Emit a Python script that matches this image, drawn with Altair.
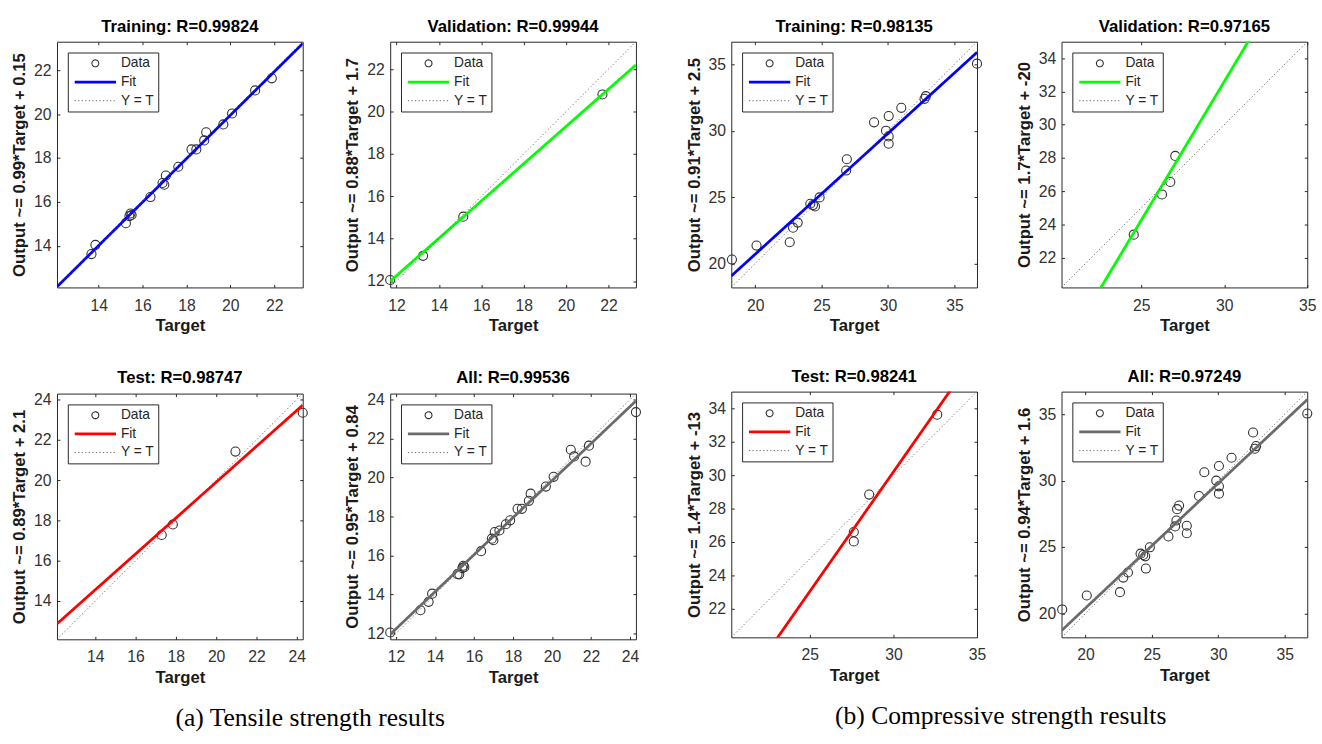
import altair as alt
import pandas as pd

SERIES = ["Data", "Fit", "Y = T"]

# ---------------- Tensile strength (a) ----------------
ten_train_target = [13.67, 13.85, 15.24, 15.40, 15.45, 15.50, 16.36, 16.91, 16.99, 17.06,
                    17.63, 18.23, 18.45, 18.81, 18.90, 19.68, 20.08, 21.13, 21.89]
ten_train_output = [13.62, 14.04, 15.03, 15.35, 15.47, 15.40, 16.22, 16.86, 16.78, 17.20,
                    17.60, 18.39, 18.39, 18.80, 19.17, 19.53, 20.03, 21.08, 21.63]
ten_val_target = [11.70, 13.25, 15.15, 21.72]
ten_val_output = [12.05, 13.19, 15.04, 20.81]
ten_test_target = [17.30, 17.85, 20.96, 24.30]
ten_test_output = [17.28, 17.80, 21.42, 23.35]

# ---------------- Compressive strength (b) ----------------
com_train_target = [18.25, 20.10, 22.60, 22.85, 23.20, 24.15, 24.35, 24.50, 24.85, 26.85,
                    26.90, 28.95, 29.85, 30.05, 30.05, 30.05, 31.00, 32.75, 32.85, 36.70]
com_train_output = [20.30, 21.35, 21.60, 22.70, 23.08, 24.50, 24.40, 24.30, 24.98, 27.00,
                    27.85, 30.63, 30.00, 29.57, 29.02, 31.10, 31.72, 32.40, 32.60, 35.05]
com_val_target = [24.55, 26.25, 26.75, 27.05]
com_val_output = [23.38, 25.80, 26.55, 28.12]
com_test_target = [27.63, 27.63, 28.55, 32.62]
com_test_output = [26.60, 26.04, 28.84, 33.62]

# Fit coefficients (slope, intercept) per panel
fit_coef = {
    "ten_train": (0.99, 0.15), "ten_val": (0.88, 1.7), "ten_test": (0.89, 2.1), "ten_all": (0.95, 0.84),
    "com_train": (0.91, 2.5), "com_val": (1.67, -17.5), "com_test": (1.43, -12.7), "com_all": (0.94, 1.6),
}
# Axis limits per panel
limits = {
    "ten_train": [12.1, 23.3], "ten_val": [11.7, 23.3], "ten_test": [12.1, 24.3], "ten_all": [11.7, 24.3],
    "com_train": [18.2, 36.7], "com_val": [20.2, 35.0], "com_test": [20.3, 35.0], "com_all": [18.2, 36.7],
}
ticks_ten_a = [14, 16, 18, 20, 22]
ticks_ten_b = [12, 14, 16, 18, 20, 22]
ticks_ten_c = [14, 16, 18, 20, 22, 24]
ticks_ten_d = [12, 14, 16, 18, 20, 22, 24]
ticks_com_5 = [20, 25, 30, 35]
ticks_com_x = [25, 30, 35]
ticks_com_y = [22, 24, 26, 28, 30, 32, 34]

titles = {
    "ten_train": "Training: R=0.99824", "ten_val": "Validation: R=0.99944",
    "ten_test": "Test: R=0.98747", "ten_all": "All: R=0.99536",
    "com_train": "Training: R=0.98135", "com_val": "Validation: R=0.97165",
    "com_test": "Test: R=0.98241", "com_all": "All: R=0.97249",
}
ylabels = {
    "ten_train": "Output ~= 0.99*Target + 0.15", "ten_val": "Output ~= 0.88*Target + 1.7",
    "ten_test": "Output ~= 0.89*Target + 2.1", "ten_all": "Output ~= 0.95*Target + 0.84",
    "com_train": "Output ~= 0.91*Target + 2.5", "com_val": "Output ~= 1.7*Target + -20",
    "com_test": "Output ~= 1.4*Target + -13", "com_all": "Output ~= 0.94*Target + 1.6",
}
fit_colors = {"train": "#0000FF", "val": "#00FF00", "test": "#FF0000", "all": "#6B6B6B"}

DATA_COLOR = "#303030"
DOT_COLOR = "#555555"
AX_COLOR = "#262626"
LINE_PATH = "M -6 0 L 6 0"
FONT = "Liberation Sans"
INWARD = alt.ExprRef(expr="-3")


def make_panel(key, tgt, out, xt, yt):
    lo, hi = limits[key]
    slope, icpt = fit_coef[key]
    kind = key.split("_")[1]
    pts = pd.DataFrame({"Target": tgt, "Output": out, "series": ["Data"] * len(tgt)})
    lines = pd.DataFrame({
        "Target": [lo, hi, lo, hi],
        "Output": [slope * lo + icpt, slope * hi + icpt, lo, hi],
        "series": ["Fit", "Fit", "Y = T", "Y = T"],
    })
    sc = alt.Scale(domain=[lo, hi], nice=False, zero=False)
    leg = alt.Legend(
        title=None, orient="top-left", offset=11, fillColor="white", strokeColor=AX_COLOR,
        padding=4, labelFont=FONT, labelFontSize=14, labelColor=AX_COLOR,
        symbolSize=49, symbolOffset=17, labelOffset=19, rowPadding=5,
    )
    color_enc = alt.Color("series:N", legend=leg,
                          scale=alt.Scale(domain=SERIES, range=[DATA_COLOR, fit_colors[kind], DOT_COLOR]))
    common_ax = dict(tickSize=INWARD, tickColor=AX_COLOR, domain=False, grid=False)
    pts_layer = alt.Chart(pts).mark_point(filled=False, size=85, strokeWidth=1.1, opacity=1).encode(
        x=alt.X("Target:Q", scale=sc,
                axis=alt.Axis(orient="bottom", values=xt, title="Target", labelPadding=13,
                              titlePadding=5, labelFlush=False, labelOverlap=False, **common_ax)),
        y=alt.Y("Output:Q", scale=sc,
                axis=alt.Axis(orient="left", values=yt, title=ylabels[key], labelPadding=9,
                              titlePadding=5, labelOverlap=False, labelFlush=False, **common_ax)),
        color=color_enc,
        shape=alt.Shape("series:N", legend=leg,
                        scale=alt.Scale(domain=SERIES, range=["circle", LINE_PATH, LINE_PATH])),
    )
    line_layer = alt.Chart(lines).mark_line(clip=True).encode(
        x=alt.X("Target:Q", scale=sc,
                axis=alt.Axis(orient="top", values=xt, title=None, labels=False, **common_ax)),
        y=alt.Y("Output:Q", scale=sc,
                axis=alt.Axis(orient="right", values=yt, title=None, labels=False, **common_ax)),
        color=color_enc,
        strokeDash=alt.StrokeDash("series:N", legend=leg,
                                  scale=alt.Scale(domain=SERIES, range=[[1, 0], [1, 0], [1.2, 2.4]])),
        strokeWidth=alt.StrokeWidth("series:N", legend=leg,
                                    scale=alt.Scale(type="ordinal", domain=SERIES, range=[1.1, 2.8, 0.9])),
    )
    return (
        alt.layer(pts_layer, line_layer)
        .resolve_scale(x="independent", y="independent")
        .resolve_axis(x="independent", y="independent")
        .properties(width=250, height=250, title=alt.TitleParams(titles[key], frame="group"))
    )


ten_all_target = ten_train_target + ten_val_target + ten_test_target
ten_all_output = ten_train_output + ten_val_output + ten_test_output
com_all_target = com_train_target + com_val_target + com_test_target
com_all_output = com_train_output + com_val_output + com_test_output

p1 = make_panel("ten_train", ten_train_target, ten_train_output, ticks_ten_a, ticks_ten_a)
p2 = make_panel("ten_val", ten_val_target, ten_val_output, ticks_ten_b, ticks_ten_b)
p5 = make_panel("ten_test", ten_test_target, ten_test_output, ticks_ten_c, ticks_ten_c)
p6 = make_panel("ten_all", ten_all_target, ten_all_output, ticks_ten_d, ticks_ten_d)
p3 = make_panel("com_train", com_train_target, com_train_output, ticks_com_5, ticks_com_5)
p4 = make_panel("com_val", com_val_target, com_val_output, ticks_com_x, ticks_com_y)
p7 = make_panel("com_test", com_test_target, com_test_output, ticks_com_x, ticks_com_y)
p8 = make_panel("com_all", com_all_target, com_all_output, ticks_com_5, ticks_com_5)

RES = dict(color="independent", shape="independent", strokeDash="independent",
           strokeWidth="independent", x="independent", y="independent")


def caption(text, dx):
    return alt.TitleParams(text, orient="bottom", anchor="middle", frame="bounds",
                           font="Liberation Serif", fontSize=26, fontWeight="normal",
                           color="black", offset=20, dx=dx)


left = alt.concat(p1, p2, p5, p6, columns=2, spacing={"row": 34, "column": 33}).resolve_scale(**RES)
left = left.properties(title=caption("(a) Tensile strength results", -17))
right = alt.concat(p3, p4, p7, p8, columns=2, spacing={"row": 34, "column": 28}).resolve_scale(**RES)
right = right.properties(title=caption("(b) Compressive strength results", 0))

chart = (
    alt.hconcat(left, right, spacing=41)
    .resolve_scale(**RES)
    .properties(padding={"left": 10, "top": 12, "right": 5, "bottom": 2})
    .configure_view(stroke=AX_COLOR, strokeWidth=1)
    .configure_title(font=FONT, fontSize=17, fontWeight="bold", color="black", offset=5)
    .configure_axis(labelFont=FONT, labelFontSize=16, labelColor="#333333",
                    titleFont=FONT, titleFontSize=17, titleFontWeight="bold", titleColor="#1a1a1a")
)

chart.save("out.html", embed_options={"renderer": "svg", "actions": False})
